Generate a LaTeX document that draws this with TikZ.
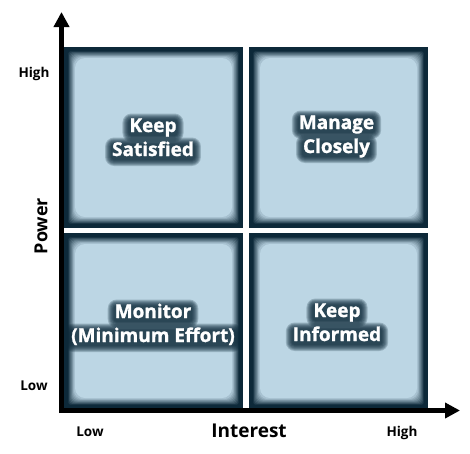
\documentclass[tikz,border=0pt]{standalone}
\usepackage{fontspec}
\setmainfont{Open Sans}
\newfontfamily\heavyfont{Open Sans}[BoldFeatures={FakeBold=1.3}]
\usetikzlibrary{calc,arrows.meta}
\definecolor{boxlight}{HTML}{BCD6E4}
\definecolor{boxdark}{HTML}{0D2939}
\pgfdeclarelayer{boxes}
\pgfdeclarelayer{glow}
\pgfsetlayers{boxes,glow,main}
\newcommand\boxfont{\fontsize{19}{24}\heavyfont\bfseries}
\newlength\wKeep \newlength\wSat \newlength\wMan \newlength\wClo
\newlength\wMon \newlength\wMin \newlength\wInf
\tikzset{
  boxtext/.style={font=\boxfont, inner sep=0pt, text=white, align=center, anchor=base},
  axislab/.style={font=\fontsize{19}{21}\selectfont\bfseries, inner sep=0pt, text=black},
  ticklab/.style={font=\fontsize{13.5}{15}\selectfont\bfseries, inner sep=0pt, text=black},
  axisline/.style={line width=5pt, black, -{Triangle[length=15pt,width=15pt]}},
}
\newcommand\quadbox[4]{%
  \fill[boxdark] (#1,#2) rectangle (#3,#4);
  \foreach \k in {0,...,8}{%
    \pgfmathsetmacro\ins{3.5+\k*0.8}%
    \pgfmathsetmacro\pc{\k*11}%
    \pgfmathsetmacro\rc{1.5+\k*0.9}%
    \fill[boxlight!\pc!boxdark, rounded corners=\rc pt] ($(#1,#2)+(\ins pt,-\ins pt)$) rectangle ($(#3,#4)+(-\ins pt,\ins pt)$);
  }%
  \fill[boxlight, rounded corners=10pt] ($(#1,#2)+(11pt,-11pt)$) rectangle ($(#3,#4)+(-11pt,11pt)$);
}
% soft dark glow behind one line of text: centre x, baseline y, width length
\newcommand\lineglow[3]{%
  \pgfmathsetmacro\hw{0.5*#3}%
  \foreach \d in {1,...,7}{%
    \fill[boxdark, opacity=0.22, rounded corners=\d pt+2pt]
      ($(#1,#2)+(-\hw pt-\d pt,-3pt-\d pt)$) rectangle ($(#1,#2)+(\hw pt+\d pt,11.5pt+\d pt)$);
  }%
}
\begin{document}
\settowidth\wKeep{\boxfont Keep}%
\settowidth\wSat{\boxfont Satisfied}%
\settowidth\wMan{\boxfont Manage}%
\settowidth\wClo{\boxfont Closely}%
\settowidth\wMon{\boxfont Monitor}%
\settowidth\wMin{\boxfont (Minimum Effort)}%
\settowidth\wInf{\boxfont Informed}%
\begin{tikzpicture}[x=1pt,y=-1pt]
\useasboundingbox (0,0) rectangle (470,453);
\begin{pgfonlayer}{boxes}
\fill[white] (0,0) rectangle (470,453);
\quadbox{64}{47}{243}{228}
\quadbox{249}{47}{428}{228}
\quadbox{64}{233}{243}{409}
\quadbox{249}{233}{428}{409}
\end{pgfonlayer}
\begin{pgfonlayer}{glow}
\lineglow{153}{132}{\wKeep}
\lineglow{153}{156}{\wSat}
\lineglow{336.5}{129}{\wMan}
\lineglow{336.5}{153}{\wClo}
\lineglow{153}{318}{\wMon}
\lineglow{153}{342}{\wMin}
\lineglow{337}{317}{\wKeep}
\lineglow{337}{341}{\wInf}
\end{pgfonlayer}
% box texts (base = baseline of last line)
\node[boxtext] (ks) at (153,156) {Keep\\Satisfied};
\node[boxtext] (mc) at (336.5,153) {Manage\\Closely};
\node[boxtext] (mn) at (153,342) {Monitor\\(Minimum Effort)};
\node[boxtext] (ki) at (337,341) {Keep\\Informed};
% axes
\coordinate (ytip) at (61.5,12);
\coordinate (xtip) at (460,410.5);
\coordinate (ystart) at (61.5,413);
\coordinate (xstart) at (59,410.5);
\draw[axisline] (ystart) -- (ytip);
\draw[axisline] (xstart) -- (xtip);
% labels
\node[axislab, font=\fontsize{18}{20}\selectfont\bfseries, rotate=90] (power) at (41,226) {Power};
\node[axislab] (interest) at (249,431) {Interest};
\node[ticklab] (yhigh) at (34,74) {High};
\node[ticklab] (ylow) at (34,386) {Low};
\node[ticklab] (xlow) at (90,432) {Low};
\node[ticklab] (xhigh) at (402,433) {High};
\end{tikzpicture}
\end{document}
